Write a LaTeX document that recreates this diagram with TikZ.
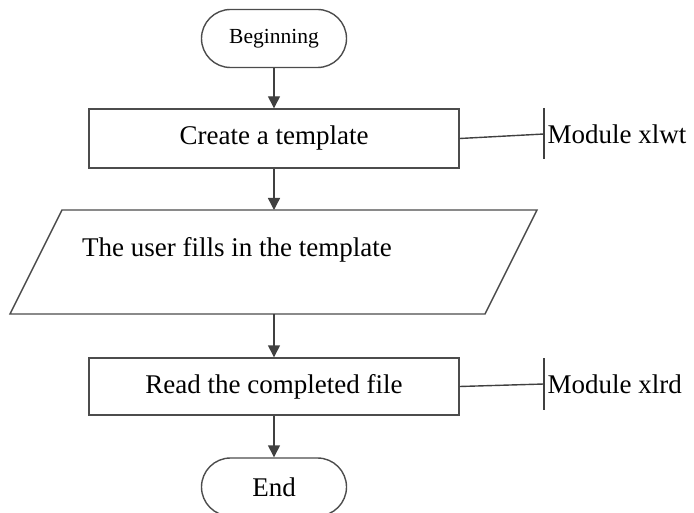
\documentclass[tikz,border=0pt]{standalone}
\usepackage{fontspec}
\setmainfont{Liberation Serif}
\usetikzlibrary{arrows.meta}

\begin{document}
\begin{tikzpicture}[x=1pt, y=-1pt, line width=1.4pt,
    terminal/.style={draw=black!70, rounded corners=29pt, minimum width=145pt, minimum height=58pt, inner sep=0pt},
    process/.style={draw=black!70, minimum width=370pt, inner sep=0pt},
    flow/.style={draw=black!75, -{Triangle[length=12pt, width=12pt]}},
    module/.style={draw=black!75}]
    \useasboundingbox (0,0) rectangle (694,513);

		\node[terminal, font=\fontsize{21.5}{24}\selectfont] (0) at (274, 38.5) {Beginning};
		\node[process, minimum height=59pt, font=\fontsize{27}{30}\selectfont] (1) at (274, 138.5) {Create a template};
		\coordinate (10) at (62, 210);
		\coordinate (11) at (537, 210);
		\coordinate (12) at (485, 314);
		\coordinate (13) at (10, 314);
		\draw[draw=black!70] (10) to (11) to (12) to (13) -- cycle;
		\node[font=\fontsize{27}{30}\selectfont] (3) at (237, 250) {The user fills in the template};
		\node[process, minimum height=57pt, font=\fontsize{27}{30}\selectfont] (4) at (274, 386.5) {Read the completed file};
		\node[terminal, font=\fontsize{27}{30}\selectfont] (5) at (274, 487) {End};
		\node[anchor=west, inner sep=0pt, font=\fontsize{27}{30}\selectfont] (6) at (547, 134) {Module xlwt};
		\node[anchor=west, inner sep=0pt, font=\fontsize{27}{30}\selectfont] (7) at (547, 384) {Module xlrd};
		\coordinate (8) at (544, 134);
		\coordinate (9) at (544, 384);

		\draw[flow] (0) to (1);
		\draw[flow] (1) to (1 |- 10);
		\draw[flow] (4 |- 13) to (4);
		\draw[flow] (4) to (5);

		\draw[module] (1.east) to (8);
		\draw[module] ([yshift=26pt]8) to ([yshift=-25pt]8);
		\draw[module] (4.east) to (9);
		\draw[module] ([yshift=26pt]9) to ([yshift=-26pt]9);
\end{tikzpicture}
\end{document}
